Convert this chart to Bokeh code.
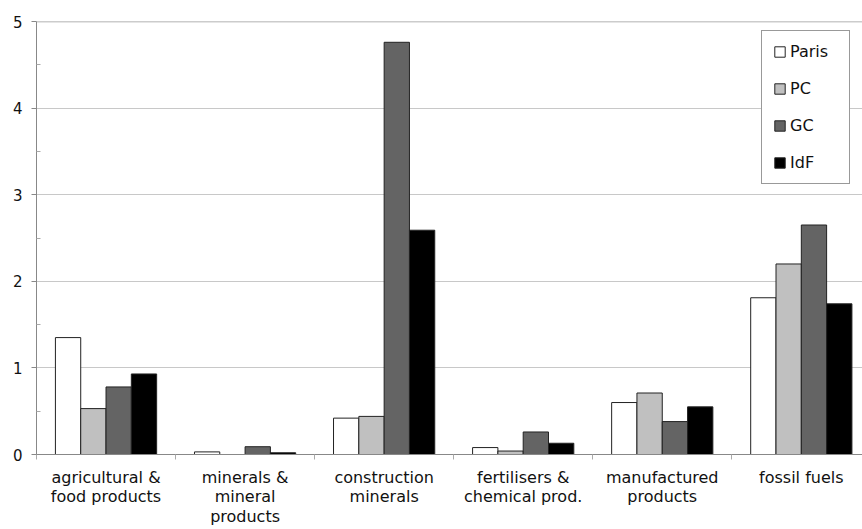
import numpy as np
from bokeh.plotting import figure
from bokeh.models import Range1d, FixedTicker, Legend, LegendItem, Span, ColumnDataSource
from bokeh.embed import file_html
from bokeh.resources import INLINE

categories = ["agricultural &\nfood products", "minerals &\nmineral\nproducts",
              "construction\nminerals", "fertilisers &\nchemical prod.",
              "manufactured\nproducts", "fossil fuels"]
series = ["Paris", "PC", "GC", "IdF"]
paris = [1.35, 0.03, 0.42, 0.08, 0.60, 1.81]
pc = [0.53, 0.00, 0.44, 0.04, 0.71, 2.20]
gc = [0.78, 0.09, 4.76, 0.26, 0.38, 2.65]
idf = [0.93, 0.02, 2.59, 0.13, 0.55, 1.74]
y_ticks = [0, 1, 2, 3, 4, 5]
colors = ["#ffffff", "#c0c0c0", "#646464", "#000000"]

FONT = "DejaVu Sans"

p = figure(width=862, height=529, output_backend="svg", toolbar_location=None,
           x_range=Range1d(0, 5.94), y_range=Range1d(0, 5),
           min_border_left=36, min_border_right=0, min_border_top=21,
           min_border_bottom=74)
p.outline_line_color = None
p.background_fill_color = "white"
p.border_fill_color = "white"

centers = np.arange(len(categories)) + 0.5
bw = 0.182
offsets = [-1.5 * bw, -0.5 * bw, 0.5 * bw, 1.5 * bw]
items = []
for name, vals, col, off in zip(series, [paris, pc, gc, idf], colors, offsets):
    src = ColumnDataSource(dict(x=centers + off, top=vals))
    r = p.vbar(x="x", top="top", width=bw, bottom=0, source=src,
               fill_color=col, line_color="#222222", line_width=1)
    items.append(LegendItem(label=name, renderers=[r]))

# top line at 5
p.add_layout(Span(location=5, dimension="width", line_color="#999999", line_width=1.5))

# y axis
yax = p.yaxis[0]
yax.ticker = FixedTicker(ticks=y_ticks, minor_ticks=[0.5, 1.5, 2.5, 3.5, 4.5])
yax.major_tick_out = 5
yax.major_tick_in = 0
yax.minor_tick_out = 0
yax.minor_tick_in = 4
yax.axis_line_color = "#888888"
yax.major_tick_line_color = "#888888"
yax.minor_tick_line_color = "#aaaaaa"
yax.major_label_standoff = 9
yax.major_label_text_font = FONT
yax.major_label_text_font_size = "15px"
yax.major_label_text_color = "#111111"

# x axis
xax = p.xaxis[0]
xax.ticker = FixedTicker(ticks=list(centers), minor_ticks=list(range(len(categories) + 1)))
xax.major_label_overrides = {float(c): lab for c, lab in zip(centers, categories)}
xax.major_tick_out = 0
xax.major_tick_in = 0
xax.minor_tick_out = 5
xax.minor_tick_in = 0
xax.axis_line_color = "#888888"
xax.minor_tick_line_color = "#aaaaaa"
xax.major_label_standoff = 8
xax.major_label_text_font = FONT
xax.major_label_text_font_size = "16px"
xax.major_label_text_line_height = 1.04
xax.major_label_text_color = "#111111"

p.xgrid.grid_line_color = None
p.ygrid.ticker = FixedTicker(ticks=[1, 2, 3, 4])
p.ygrid.grid_line_color = "#c8c8c8"
p.ygrid.grid_line_width = 1

legend = Legend(items=items, location=(725, 270))
legend.border_line_color = "#333333"
legend.border_line_width = 1
legend.background_fill_color = "white"
legend.background_fill_alpha = 1
legend.label_text_font = FONT
legend.label_text_font_size = "16px"
legend.label_text_color = "#111111"
legend.glyph_height = 13
legend.glyph_width = 13
legend.label_height = 16
legend.label_width = 48
legend.label_standoff = 4
legend.spacing = 18
legend.padding = 11
legend.margin = 0
p.add_layout(legend, "center")

open("out.html", "w").write(file_html(p, INLINE))
